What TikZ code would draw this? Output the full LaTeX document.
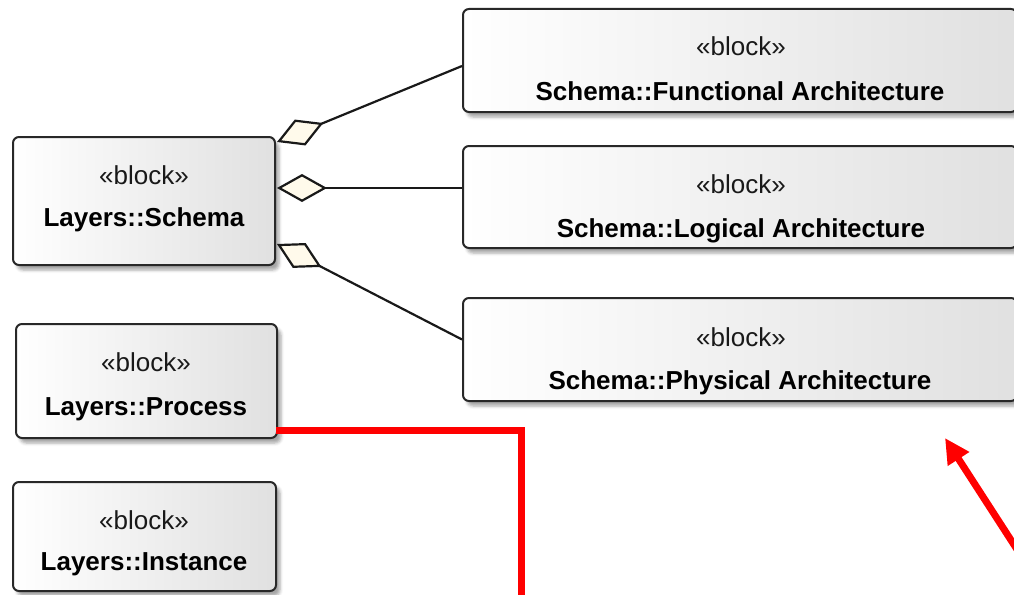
\documentclass[tikz,border=0pt]{standalone}
\usepackage{fontspec}
\setmainfont{Liberation Sans}
\usetikzlibrary{arrows.meta,calc,shadows.blur}
\definecolor{diamondc}{RGB}{255,250,235}
\definecolor{boxline}{RGB}{40,40,40}
\definecolor{redc}{RGB}{255,0,0}
\tikzset{
  blockbox/.style={rectangle, rounded corners=6pt, draw=boxline, line width=2pt,
    left color=white, right color=black!12,
    blur shadow={shadow xshift=4pt, shadow yshift=-5pt, shadow opacity=35, shadow blur radius=3pt},
    inner sep=0pt},
  stereo/.style={anchor=base, font=\fontsize{26}{30}\selectfont, text=black!90},
  bname/.style={anchor=base, font=\fontsize{26}{30}\selectfont\bfseries, text=black},
  aggr/.style={line width=2.2pt, draw=black!90, {Diamond[length=50pt,width=28pt,fill=diamondc]}-},
  redline/.style={draw=redc, line width=7pt},
}
\begin{document}
\begin{tikzpicture}[x=1pt,y=-1pt]
\useasboundingbox (0,0) rectangle (1014,594);
% boxes
\node[blockbox, minimum width=262pt, minimum height=128pt] (schema) at (144,201) {};
\node[blockbox, minimum width=261pt, minimum height=114pt] (process) at (146.5,381) {};
\node[blockbox, minimum width=263pt, minimum height=109pt] (instance) at (144.5,536.5) {};
\node[blockbox, minimum width=554pt, minimum height=103pt] (func) at (740,60.5) {};
\node[blockbox, minimum width=554pt, minimum height=102pt] (logical) at (740,197) {};
\node[blockbox, minimum width=554pt, minimum height=103pt] (physical) at (740,349.5) {};
% texts
\node[stereo] (schemaS) at (144,184) {«block»};
\node[bname] (schemaN) at (144,226) {Layers::Schema};
\node[stereo] (processS) at (146,371) {«block»};
\node[bname] (processN) at (146,415) {Layers::Process};
\node[stereo] (instanceS) at (144,529) {«block»};
\node[bname] (instanceN) at (144,570) {Layers::Instance};
\node[stereo] (funcS) at (741,56) {«block»};
\node[bname] (funcN) at (740,100) {Schema::Functional Architecture};
\node[stereo] (logicalS) at (741,193) {«block»};
\node[bname] (logicalN) at (741,237) {Schema::Logical Architecture};
\node[stereo] (physicalS) at (741,346) {«block»};
\node[bname] (physicalN) at (740,389) {Schema::Physical Architecture};
% aggregations
\draw[aggr] ($(schema.north east)+(1,6)$) -- ($(func.west)+(0,5.5)$);
\draw[aggr] ($(schema.east)+(1,-13)$) -- ($(logical.west)+(0,-9)$);
\draw[aggr] ($(schema.east)+(1,43)$) -- ($(physical.west)+(0,-10)$);
% red annotations
\coordinate (redEnd) at (521,600);
\draw[redline] ($(process.south east)+(-2,-8.5)$) -| (redEnd);
\coordinate (arrowStart) at (1040,585);
\coordinate (arrowTip) at (945,438);
\draw[redline, -{Triangle[length=25pt,width=24pt]}] (arrowStart) -- (arrowTip);
\end{tikzpicture}
\end{document}
